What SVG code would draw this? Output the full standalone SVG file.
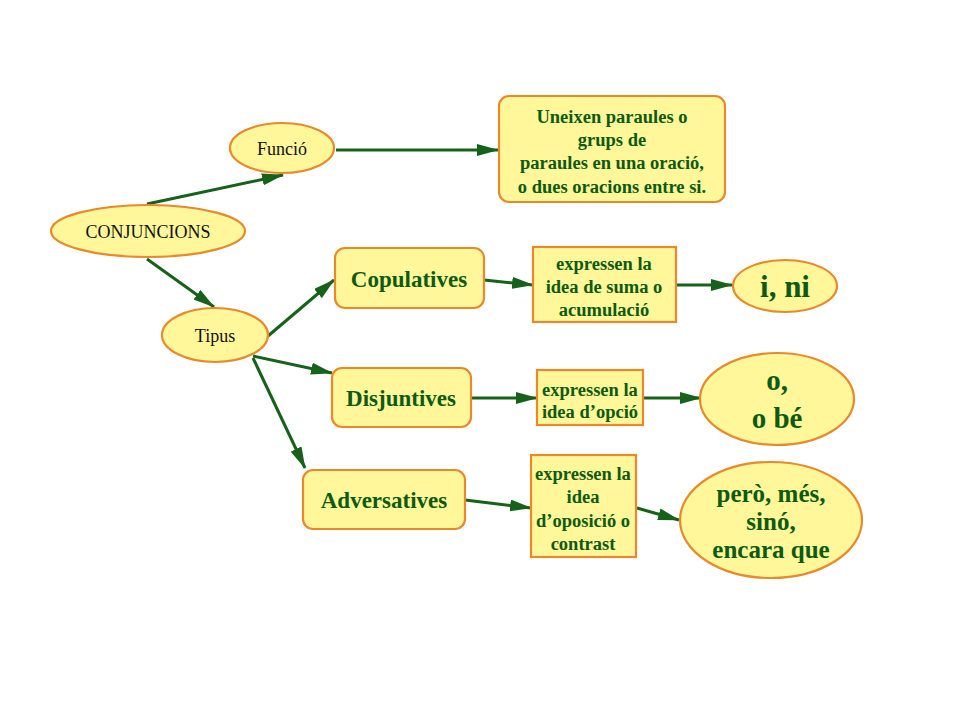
<svg xmlns="http://www.w3.org/2000/svg" width="960" height="720" viewBox="0 0 960 720">
<style>
.n{fill:#FFF79A;stroke:#E8892C;stroke-width:2.2}
.t{font-family:"Liberation Serif",serif;font-size:18px;fill:#111;text-anchor:middle}
.g{font-family:"Liberation Serif",serif;font-weight:bold;fill:#0E5A10;text-anchor:middle}
.b{font-size:18.5px}
.h{font-size:23px}
.c{stroke:#16621A;stroke-width:3;fill:none;marker-end:url(#a)}
</style>
<defs>
<marker id="a" markerUnits="userSpaceOnUse" markerWidth="22" markerHeight="12" refX="21" refY="6" orient="auto">
<path d="M0,0 L22,6 L0,12 Z" fill="#16621A"/>
</marker>
</defs>
<rect width="960" height="720" fill="#fff"/>
<g id="connectors">
<line class="c" x1="147" y1="204" x2="283" y2="175"/>
<line class="c" x1="336" y1="150" x2="498" y2="150"/>
<line class="c" x1="147" y1="259" x2="214" y2="307"/>
<line class="c" x1="268" y1="336" x2="334" y2="280"/>
<line class="c" x1="253" y1="356" x2="332" y2="373"/>
<line class="c" x1="253" y1="358" x2="305" y2="468"/>
<line class="c" x1="484" y1="280" x2="533" y2="285"/>
<line class="c" x1="676" y1="285" x2="732" y2="285"/>
<line class="c" x1="471" y1="398" x2="537" y2="398"/>
<line class="c" x1="643" y1="398" x2="701" y2="398"/>
<line class="c" x1="465" y1="500" x2="531" y2="508"/>
<line class="c" x1="637" y1="508" x2="679" y2="520"/>
</g>
<g id="conjuncions">
<ellipse class="n" cx="148" cy="231" rx="97" ry="26"/>
<text class="t" x="148" y="238">CONJUNCIONS</text>
</g>
<g id="funcio">
<ellipse class="n" cx="282" cy="148" rx="52" ry="25"/>
<text class="t" x="282" y="155">Funció</text>
</g>
<g id="definicio">
<rect class="n" x="499" y="96" width="226" height="106" rx="10"/>
<text class="g b" x="612" y="123">Uneixen paraules o</text>
<text class="g b" x="612" y="146">grups de</text>
<text class="g b" x="612" y="169">paraules en una oració,</text>
<text class="g b" x="612" y="193">o dues oracions entre si.</text>
</g>
<g id="tipus">
<ellipse class="n" cx="215" cy="335" rx="53" ry="27"/>
<text class="t" x="215" y="342">Tipus</text>
</g>
<g id="copulatives">
<rect class="n" x="335" y="248" width="149" height="60" rx="10"/>
<text class="g h" x="409" y="287">Copulatives</text>
</g>
<g id="disjuntives">
<rect class="n" x="332" y="368" width="139" height="59" rx="10"/>
<text class="g h" x="401" y="406">Disjuntives</text>
</g>
<g id="adversatives">
<rect class="n" x="303" y="470" width="162" height="59" rx="10"/>
<text class="g h" x="384" y="508">Adversatives</text>
</g>
<g id="suma">
<rect class="n" x="533" y="247" width="143" height="75"/>
<text class="g b" x="604" y="270">expressen la</text>
<text class="g b" x="604" y="293">idea de suma o</text>
<text class="g b" x="604" y="316">acumulació</text>
</g>
<g id="opcio">
<rect class="n" x="537" y="370" width="106" height="55"/>
<text class="g b" x="590" y="396">expressen la</text>
<text class="g b" x="590" y="418">idea d’opció</text>
</g>
<g id="oposicio">
<rect class="n" x="531" y="455" width="105" height="102"/>
<text class="g b" x="583" y="480">expressen la</text>
<text class="g b" x="583" y="503">idea</text>
<text class="g b" x="583" y="527">d’oposició o</text>
<text class="g b" x="583" y="550">contrast</text>
</g>
<g id="ini">
<ellipse class="n" cx="785" cy="286" rx="52" ry="26"/>
<text class="g" font-size="31" x="785" y="297">i, ni</text>
</g>
<g id="obe">
<ellipse class="n" cx="777" cy="399" rx="77" ry="46"/>
<text class="g" font-size="29" x="777" y="390">o,</text>
<text class="g" font-size="29" x="777" y="428">o bé</text>
</g>
<g id="pero">
<ellipse class="n" cx="771" cy="520" rx="91" ry="58"/>
<text class="g" font-size="25" x="771" y="502">però, més,</text>
<text class="g" font-size="25" x="771" y="530">sinó,</text>
<text class="g" font-size="25" x="771" y="558">encara que</text>
</g>
</svg>
